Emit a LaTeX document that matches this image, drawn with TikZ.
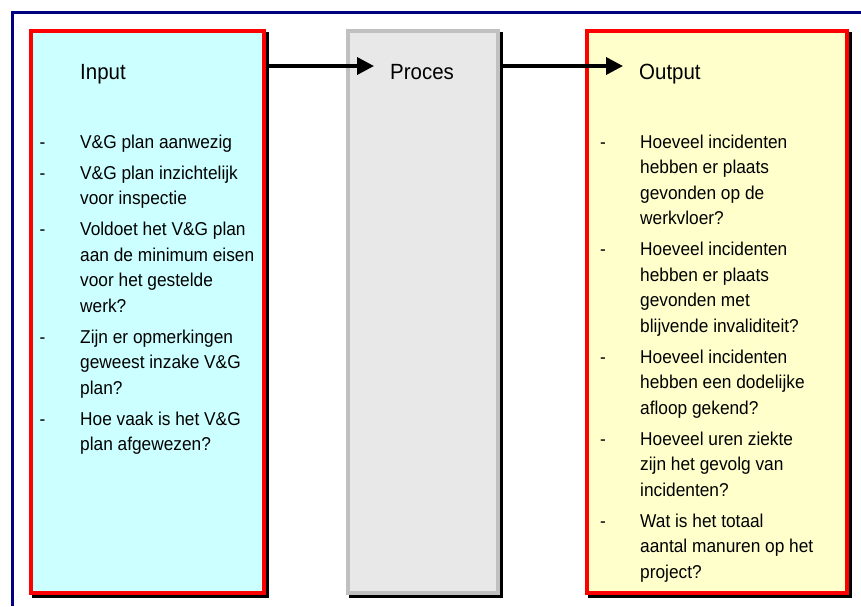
\documentclass[tikz,border=0pt]{standalone}
\usepackage{fontspec}
\usetikzlibrary{arrows.meta,backgrounds}
\newfontfamily\narrowsans[FakeStretch=0.93]{Liberation Sans}
\definecolor{framenavy}{RGB}{0,0,128}
\definecolor{inputfill}{RGB}{204,255,255}
\definecolor{procfill}{RGB}{232,232,232}
\definecolor{procline}{RGB}{192,192,192}
\definecolor{outputfill}{RGB}{255,255,204}
\definecolor{boxred}{RGB}{255,0,0}
\tikzset{
  panel/.style={rectangle, line width=4pt, minimum height=562pt, inner sep=0pt},
  heading/.style={anchor=base west, inner sep=0pt, font=\narrowsans\fontsize{22}{26}\selectfont},
  body/.style={anchor=base west, inner sep=0pt, font=\narrowsans\fontsize{18.6}{25.5}\selectfont},
  flow/.style={line width=3.6pt, -{Triangle[length=17pt,width=17pt]}},
  hardshadow/.style={fill=black}
}
\begin{document}
\begin{tikzpicture}[x=1pt,y=-1pt]
\useasboundingbox (0,0) rectangle (861,606);

% page frame
\draw[framenavy, line width=3.5pt] (12.5,606) -- (12.5,12.5) -- (861,12.5);

% the three panels
\node[panel, draw=boxred, fill=inputfill, minimum width=233pt] (inbox) at (147.5,312) {};
\node[panel, draw=procline, fill=procfill, minimum width=150pt] (procbox) at (423,312) {};
\node[panel, draw=boxred, fill=outputfill, minimum width=260pt] (outbox) at (717,312) {};

\begin{scope}[on background layer]
  \foreach \b in {inbox,procbox,outbox}
    \fill[hardshadow] ([shift={(3,3)}]\b.north west) rectangle ([shift={(3,3)}]\b.south east);
\end{scope}

% headings
\node[heading] (inT) at (80,79) {Input};
\node[heading] (procT) at (390,79) {Proces};
\node[heading] (outT) at (639,79) {Output};

% flow arrows
\coordinate (tipA) at (374,66);
\coordinate (tipB) at (623,66);
\draw[flow] (inbox.east |- tipA) -- (tipA);
\draw[flow] (procbox.east |- tipB) -- (tipB);

% input list
\foreach \yy/\lbl [count=\k] in {
  148/V\&G plan aanwezig,
  179/V\&G plan inzichtelijk,
  204.5/voor inspectie,
  235.5/Voldoet het V\&G plan,
  261/aan de minimum eisen,
  286.5/voor het gestelde,
  312/werk?,
  343/Zijn er opmerkingen,
  368.5/geweest inzake V\&G,
  394/plan?,
  425/Hoe vaak is het V\&G,
  450.5/plan afgewezen?}
  \node[body] (inl\k) at (80,\yy) {\lbl};
\foreach \yy [count=\k] in {148,179,235.5,343,425}
  \node[body] (indash\k) at (39.5,\yy) {-};

% output list
\foreach \yy/\lbl [count=\k] in {
  148/Hoeveel incidenten,
  173.5/hebben er plaats,
  199/gevonden op de,
  224.5/werkvloer?,
  255.5/Hoeveel incidenten,
  281/hebben er plaats,
  306.5/gevonden met,
  332/blijvende invaliditeit?,
  363/Hoeveel incidenten,
  388.5/hebben een dodelijke,
  414/afloop gekend?,
  445/Hoeveel uren ziekte,
  470.5/zijn het gevolg van,
  496/incidenten?,
  527/Wat is het totaal,
  552.5/aantal manuren op het,
  578/project?}
  \node[body] (outl\k) at (640,\yy) {\lbl};
\foreach \yy [count=\k] in {148,255.5,363,445,527}
  \node[body] (outdash\k) at (600,\yy) {-};
\end{tikzpicture}
\end{document}
